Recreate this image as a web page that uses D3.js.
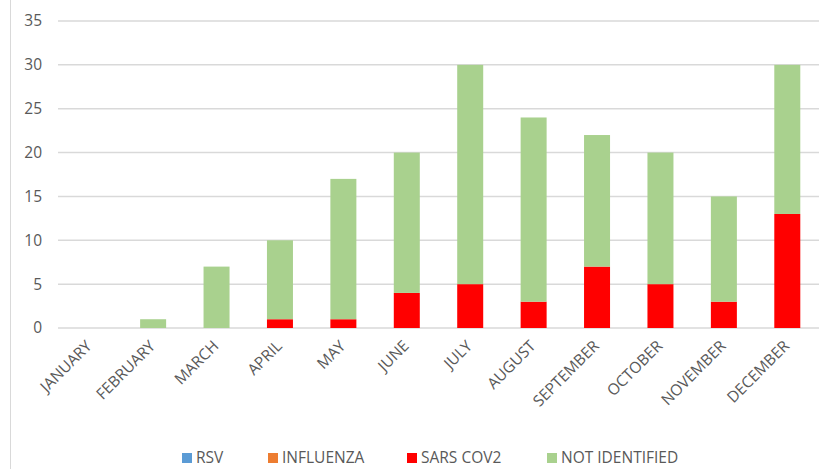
<!DOCTYPE html>
<html>
<head>
<meta charset="utf-8">
<script src="https://cdn.jsdelivr.net/npm/d3@7"></script>
<style>
  body { margin: 0; background: #fff; }
  svg { font-family: "Open Sans", sans-serif; }
</style>
</head>
<body>
<div id="chart"></div>
<script>
const months = ["JANUARY","FEBRUARY","MARCH","APRIL","MAY","JUNE","JULY","AUGUST","SEPTEMBER","OCTOBER","NOVEMBER","DECEMBER"]
const rsv = [0,0,0,0,0,0,0,0,0,0,0,0]
const influenza = [0,0,0,0,0,0,0,0,0,0,0,0]
const sarsCov2 = [0,0,0,1,1,4,5,3,7,5,3,13]
const notIdentified = [0,1,7,9,16,16,25,21,15,15,12,17]
const yTicks = [0,5,10,15,20,25,30,35]
const seriesNames = ["RSV","INFLUENZA","SARS COV2","NOT IDENTIFIED"]
const seriesColors = ["#5B9BD5","#ED7D31","#FF0000","#A9D18E"]

let width = 826, height = 469
let margin = {left: 58, right: 7, top: 21, bottom: 141}

let svg = d3.select("#chart").append("svg").attr("width", width).attr("height", height)

// chart border line on the left
svg.append("line").attr("x1", 10.5).attr("x2", 10.5).attr("y1", 0).attr("y2", height)
    .attr("stroke", "#d9d9d9").attr("stroke-width", 1)

let x = d3.scaleBand().domain(months).range([margin.left, width - margin.right]).paddingInner(0.59).paddingOuter(0.295)
let y = d3.scaleLinear().domain([0, 35]).range([height - margin.bottom, margin.top])

// gridlines
svg.append("g").selectAll("line").data(yTicks).join("line")
    .attr("x1", margin.left).attr("x2", width - margin.right)
    .attr("y1", d => y(d)).attr("y2", d => y(d))
    .attr("stroke", "#d9d9d9").attr("stroke-width", 1.5)

// y labels
let yAxis = d3.axisLeft(y).tickValues(yTicks).tickSize(0).tickPadding(16)
let ya = svg.append("g").attr("transform", `translate(${margin.left},0)`).call(yAxis)
ya.select(".domain").remove()
ya.selectAll("text").attr("font-size", "15.5px").attr("fill", "#595959").attr("font-family", "Open Sans, sans-serif")

// stacked bars
let rows = months.map((m, i) => ({month: m, "RSV": rsv[i], "INFLUENZA": influenza[i], "SARS COV2": sarsCov2[i], "NOT IDENTIFIED": notIdentified[i]}))
let stack = d3.stack().keys(seriesNames)(rows)

svg.append("g").selectAll("g").data(stack).join("g")
    .attr("fill", (d, i) => seriesColors[i])
    .selectAll("rect").data(d => d.filter(s => s[1] > s[0])).join("rect")
    .attr("x", d => x(d.data.month))
    .attr("width", x.bandwidth())
    .attr("y", d => y(d[1]))
    .attr("height", d => y(d[0]) - y(d[1]))

// x labels
let xAxis = d3.axisBottom(x).tickSize(0).tickPadding(0)
let xa = svg.append("g").attr("transform", `translate(0,${y(0)})`).call(xAxis)
xa.select(".domain").remove()
xa.selectAll("text")
    .attr("font-size", "15.5px").attr("fill", "#595959").attr("font-family", "Open Sans, sans-serif")
    .attr("text-anchor", "end")
    .attr("dy", "0")
    .attr("transform", "translate(3,19) rotate(-45)")

// legend
let legendX = [182, 268, 407, 547]
let lg = svg.append("g").selectAll("g").data(seriesNames).join("g")
    .attr("transform", (d, i) => `translate(${legendX[i]},458)`)
lg.append("rect").attr("x", 0).attr("y", -5).attr("width", 10).attr("height", 10).attr("fill", (d, i) => seriesColors[i])
lg.append("text").attr("x", 14).attr("y", 0).attr("dy", "0.35em")
    .attr("font-size", "15.5px").attr("fill", "#595959").text(d => d)
</script>
</body>
</html>
